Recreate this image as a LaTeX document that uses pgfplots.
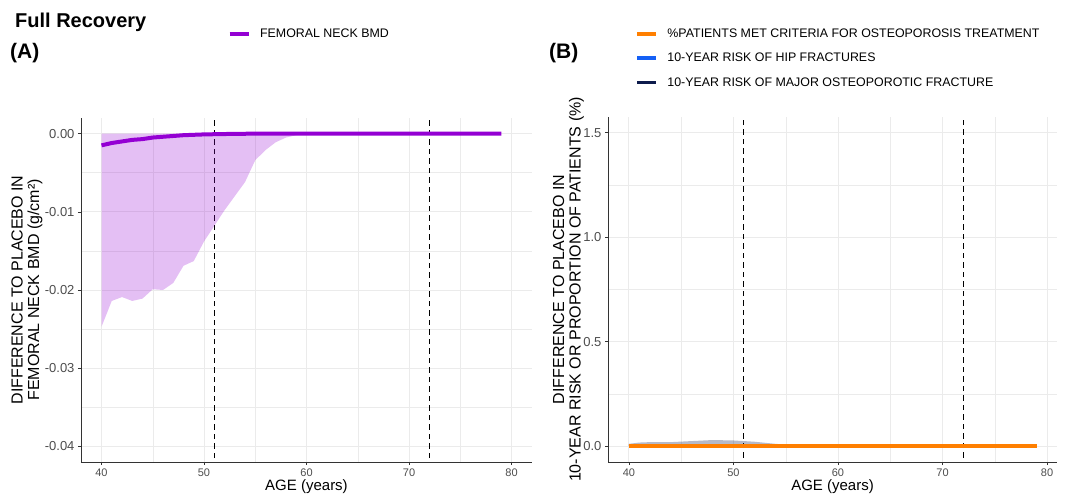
\documentclass[border=0pt]{standalone}
\usepackage{fontspec}
\setmainfont{Liberation Sans}
\usepackage{pgfplots}
\pgfplotsset{compat=1.18}
\definecolor{bmdviolet}{HTML}{9400D3}
\definecolor{critorange}{HTML}{FF7F00}
\definecolor{hipblue}{HTML}{1560F5}
\definecolor{majnavy}{HTML}{0D1B4C}
\definecolor{gridgray}{HTML}{EBEBEB}
\definecolor{ticktext}{HTML}{4D4D4D}
\definecolor{axisgray}{HTML}{333333}
\pgfplotsset{
  panel/.style={
    scale only axis, at={(0pt,0pt)}, anchor=south west,
    xmin=38, xtick={40,50,...,80}, minor xtick={45,55,65,75},
    axis x line*=bottom, axis y line*=left,
    axis line style={-, color=axisgray, line width=0.6pt},
    grid=both,
    major grid style={draw=gridgray, line width=0.9pt},
    minor grid style={draw=gridgray, line width=0.45pt},
    tick align=outside, major tick length=3pt, minor tick length=0pt,
    tick style={color=axisgray, line width=0.6pt},
    tick label style={color=ticktext},
    xticklabel style={font=\fontsize{11}{13}\selectfont},
    /pgf/number format/assume math mode=true,
    xlabel={AGE (years)},
    xlabel style={font=\fontsize{15}{17}\selectfont, yshift=4pt},
    legend cell align=left,
    legend image code/.code={\draw[line width=3.8pt] (0pt,0pt) -- (19pt,0pt);},
    legend style={draw=none, fill=none, font=\fontsize{12.4}{14}\selectfont, inner sep=0pt,
      /tikz/every odd column/.append style={column sep=7.5pt}},
  },
  ylab/.style={ylabel style={font=\fontsize{16}{16.5}\selectfont, align=center,
    at={(axis description cs:#1,0.5)}, anchor=center}},
  vline/.style={black, line width=1.05pt, dash pattern=on 5.5pt off 4pt, forget plot},
}
\begin{document}
\begin{tikzpicture}
\path[use as bounding box] (0pt,0pt) rectangle (1067pt,500pt);
\node[anchor=base west, font=\bfseries\fontsize{20}{22}\selectfont, inner sep=0pt] at (15pt,472pt) {Full Recovery};
\node[anchor=base west, font=\bfseries\fontsize{21}{22}\selectfont, inner sep=0pt] at (10pt,441pt) {(A)};
\node[anchor=base west, font=\bfseries\fontsize{21}{22}\selectfont, inner sep=0pt] at (549pt,441pt) {(B)};

% Panel A
\begin{scope}[shift={(81pt,38pt)}]
\begin{axis}[panel, width=451pt, height=344pt,
  xmax=82, ymin=-0.042, ymax=0.002,
  ytick={-0.04,-0.03,...,0.001}, minor ytick={-0.035,-0.025,-0.015,-0.005},
  yticklabel style={font=\fontsize{13}{15}\selectfont,
    /pgf/number format/.cd, fixed, fixed zerofill, precision=2},
  scaled y ticks=false,
  ylab=-0.12,
  ylabel={DIFFERENCE TO PLACEBO IN\\FEMORAL NECK BMD (g/cm²)},
  legend style={at={(axis description cs:0.325,1.245)}, anchor=west},
]
\addplot[vline] coordinates {(51,-0.05) (51,0.01)};
\addplot[vline] coordinates {(72,-0.05) (72,0.01)};
\addplot[fill=bmdviolet, fill opacity=0.25, draw=none, forget plot] coordinates {
  (40,-0.0247) (41,-0.0214) (42,-0.0209) (43,-0.0214) (44,-0.0211) (45,-0.0199)
  (46,-0.0200) (47,-0.0191) (48,-0.0169) (49,-0.0163) (50,-0.0138) (51,-0.0118)
  (52,-0.0098) (53,-0.0080) (54,-0.0062) (55,-0.0034) (56,-0.0021) (57,-0.0011)
  (58,-0.0005) (59,-0.0002) (60,0) (60,0.0000) (40,0.0000)} -- cycle;
\addplot[bmdviolet, line width=4pt] coordinates {
  (40,-0.0015) (41,-0.0012) (42,-0.0010) (43,-0.0008) (44,-0.0007) (45,-0.0005)
  (46,-0.0004) (47,-0.0003) (48,-0.0002) (49,-0.00015) (50,-0.0001) (52,-0.00005)
  (55,0) (60,0) (70,0) (79,0)};
\addlegendentry{FEMORAL NECK BMD}
\end{axis}
\end{scope}

% Panel B
\begin{scope}[shift={(608pt,38pt)}]
\begin{axis}[panel, width=449pt, height=345pt,
  xmax=80.95, ymin=-0.075, ymax=1.575,
  ytick={0,0.5,1,1.5}, minor ytick={0.25,0.75,1.25},
  yticklabel style={font=\fontsize{13}{15}\selectfont,
    /pgf/number format/.cd, fixed, fixed zerofill, precision=1},
  ylab=-0.088,
  ylabel={DIFFERENCE TO PLACEBO IN\\10-YEAR RISK OR PROPORTION OF PATIENTS (\%)},
  legend style={at={(axis description cs:0.06,1.261)}, anchor=north west,
    row sep=10pt},
]
\addlegendimage{critorange}
\addlegendentry{\%PATIENTS MET CRITERIA FOR OSTEOPOROSIS TREATMENT}
\addlegendimage{hipblue}
\addlegendentry{10-YEAR RISK OF HIP FRACTURES}
\addlegendimage{majnavy}
\addlegendentry{10-YEAR RISK OF MAJOR OSTEOPOROTIC FRACTURE}
\addplot[vline] coordinates {(51,-0.1) (51,1.6)};
\addplot[vline] coordinates {(72,-0.1) (72,1.6)};
\addplot[fill=majnavy, fill opacity=0.3, draw=none, forget plot] coordinates {
  (40,0.012) (41,0.018) (42,0.020) (44,0.020) (46,0.025) (48,0.030) (50,0.028)
  (52,0.022) (54,0.012) (56,0.004) (57,0) (57,0) (40,0)} -- cycle;
\addplot[majnavy, line width=1pt, forget plot] coordinates {(40,0.006) (50,0.006) (56,0.002) (79,0)};
\addplot[hipblue, line width=3.8pt, forget plot] coordinates {(40,0) (50,0) (60,0) (70,0) (79,0)};
\addplot[critorange, line width=3.8pt, forget plot] coordinates {(40,0) (50,0) (60,0) (70,0) (79,0)};
\end{axis}
\end{scope}
\end{tikzpicture}
\end{document}
